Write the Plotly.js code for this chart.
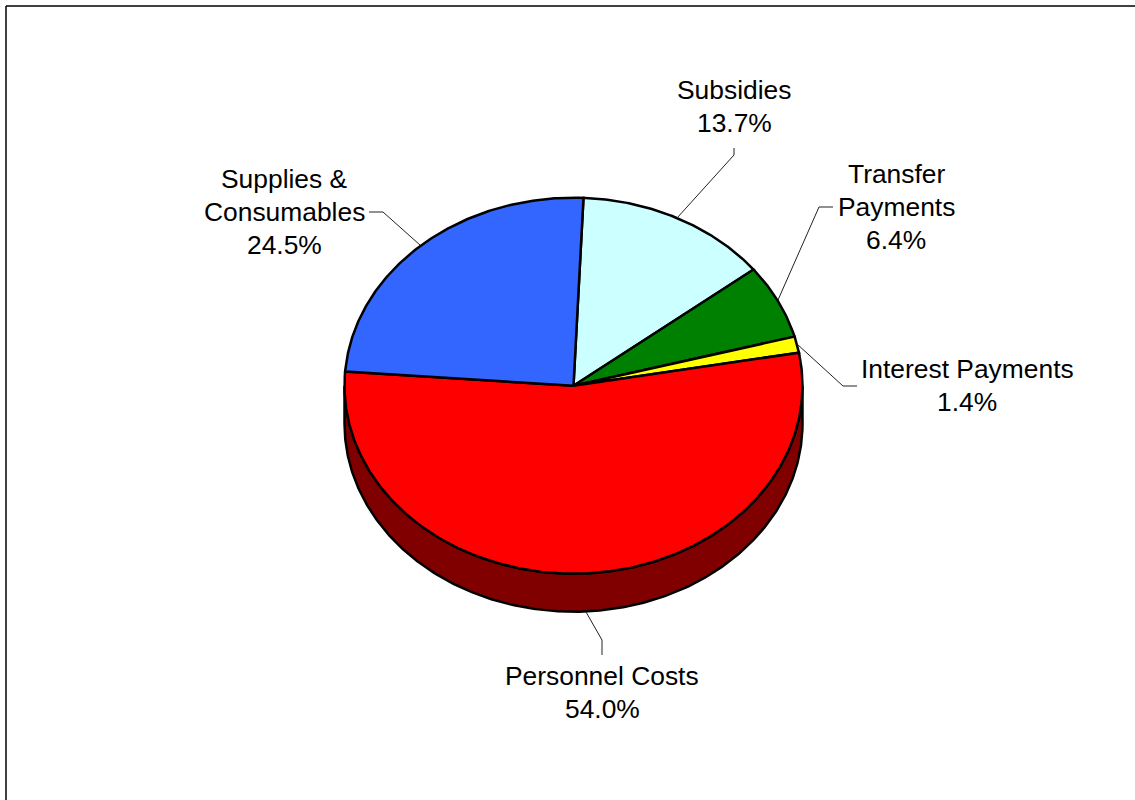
<!DOCTYPE html>
<html>
<head>
<meta charset="utf-8">
<script src="https://cdn.plot.ly/plotly-3.0.1.min.js"></script>
<style>html,body{margin:0;padding:0;background:#fff;overflow:hidden}#chart{width:1135px;height:800px}</style>
</head>
<body>
<div id="chart"></div>
<script>
// Expenditure shares, clockwise from the slice nearest twelve o'clock
const categories = ['Subsidies', 'Transfer Payments', 'Interest Payments', 'Personnel Costs', 'Supplies & Consumables'];
const shares = [13.7, 6.4, 1.4, 54.0, 24.5];
const sliceColors = ['#CCFFFF', '#008000', '#FFFF00', '#FF0000', '#3366FF'];
const labelLines = [['Subsidies'], ['Transfer', 'Payments'], ['Interest Payments'], ['Personnel Costs'], ['Supplies &', 'Consumables']];

// Tilted disc geometry, in the page-sized axis units
const disc = {cx: 573.5, cy: 385.7, rx: 229, ry: 188, depth: 38, start: 2.5};
const wallColor = '#800000';
const labelCentres = [[734, 106.5], [896, 207], [967, 385.5], [602, 692.5], [284, 212]];
const lineGap = 33;
const leaders = [
  [[734, 148], [734, 155], [677, 218]],
  [[833, 207], [819, 207], [778, 300]],
  [[857, 386], [843, 386], [797, 344]],
  [[602, 655], [602, 640], [586, 612]],
  [[369, 212], [383, 212], [420, 245]]
];

const rad = d => d * Math.PI / 180;
const px = a => disc.cx + disc.rx * Math.sin(rad(a));
const py = (a, drop) => disc.cy + drop - disc.ry * Math.cos(rad(a));

function arc(from, to, drop) {
  const xs = [], ys = [], step = to >= from ? 0.5 : -0.5;
  for (let a = from; step > 0 ? a < to : a > to; a += step) {
    xs.push(px(a)); ys.push(py(a, drop));
  }
  xs.push(px(to)); ys.push(py(to, drop));
  return [xs, ys];
}

const traces = [];

// Side wall of the disc: only the front half shows
const wallUpper = arc(90, 270, 0), wallLower = arc(270, 90, disc.depth);
traces.push({
  type: 'scatter', mode: 'lines', hoverinfo: 'skip', showlegend: false, cliponaxis: false,
  x: wallUpper[0].concat(wallLower[0], [wallUpper[0][0]]), y: wallUpper[1].concat(wallLower[1], [wallUpper[1][0]]),
  fill: 'toself', fillcolor: wallColor, line: {color: '#000', width: 2.5}
});

// Top face, one filled wedge per share
const total = shares.reduce((s, v) => s + v, 0);
let angle = disc.start;
shares.forEach((share, i) => {
  const sweep = share / total * 360;
  const edge = arc(angle, angle + sweep, 0);
  traces.push({
    type: 'scatter', mode: 'lines', name: categories[i], hoverinfo: 'name', showlegend: false, cliponaxis: false,
    x: [disc.cx].concat(edge[0], [disc.cx]), y: [disc.cy].concat(edge[1], [disc.cy]),
    fill: 'toself', fillcolor: sliceColors[i], line: {color: '#000', width: 2.5}
  });
  angle += sweep;
});

// Leader lines from each label to its slice
leaders.forEach(pts => traces.push({
  type: 'scatter', mode: 'lines', hoverinfo: 'skip', showlegend: false, cliponaxis: false,
  x: pts.map(p => p[0]), y: pts.map(p => p[1]), line: {color: '#222', width: 1}
}));

// Each text line is its own annotation so the line spacing stays tight
const annotations = [];
categories.forEach((c, i) => {
  const rows = labelLines[i].concat([shares[i].toFixed(1) + '%']);
  rows.forEach((row, r) => annotations.push({
    xref: 'x', yref: 'y', x: labelCentres[i][0],
    y: labelCentres[i][1] + (r - (rows.length - 1) / 2) * lineGap,
    xanchor: 'center', yanchor: 'middle', showarrow: false, align: 'center',
    text: row,
    font: {family: 'Liberation Sans, Arial, sans-serif', size: 26.4, color: '#000'}
  }));
});

const hiddenAxis = {visible: false, fixedrange: true, showgrid: false, zeroline: false};
Plotly.newPlot('chart', traces, {
  width: 1135, height: 800, autosize: false,
  margin: {l: 0, r: 0, t: 0, b: 0},
  paper_bgcolor: '#fff', plot_bgcolor: '#fff', showlegend: false,
  xaxis: Object.assign({range: [0, 1135]}, hiddenAxis),
  yaxis: Object.assign({range: [800, 0]}, hiddenAxis),
  annotations: annotations,
  shapes: [
    {type: 'line', xref: 'x', yref: 'y', x0: 6, x1: 6, y0: 6, y1: 800, line: {color: '#000', width: 1.5}},
    {type: 'line', xref: 'x', yref: 'y', x0: 6, x1: 1135, y0: 6, y1: 6, line: {color: '#000', width: 1.5}}
  ]
}, {displayModeBar: false});
</script>
</body>
</html>
